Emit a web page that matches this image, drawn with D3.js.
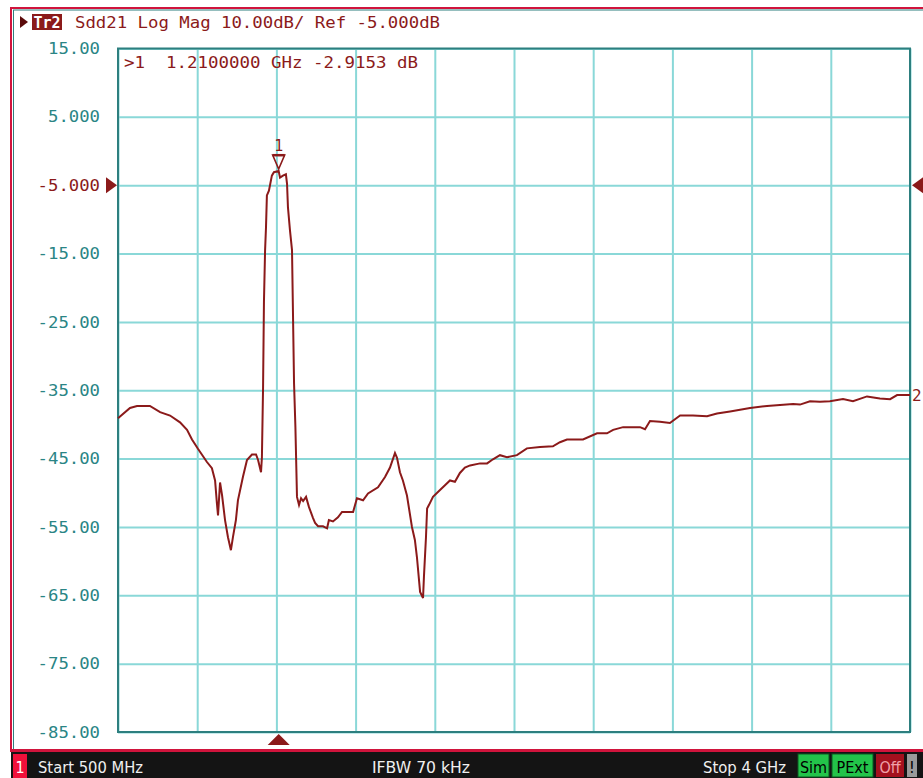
<!DOCTYPE html>
<html><head><meta charset="utf-8">
<script src="https://cdn.jsdelivr.net/npm/d3@7"></script>
<style>html,body{margin:0;padding:0;background:#fff;overflow:hidden}</style>
</head><body><svg id="c" width="923" height="778"></svg>
<script>
// ---- data ----
const freqGHz = [0.500,0.553,0.584,0.641,0.686,0.730,0.774,0.805,0.827,0.854,
  0.893,0.915,0.929,0.937,0.942,0.951,0.960,0.973,0.986,0.999,
  1.008,1.021,1.030,1.052,1.070,1.092,1.110,1.119,1.132,1.136,
  1.141,1.145,1.150,1.154,1.158,1.167,1.180,1.189,1.210,1.216,
  1.229,1.242,1.247,1.251,1.260,1.269,1.278,1.284,1.291,1.300,
  1.309,1.318,1.331,1.344,1.362,1.371,1.384,1.406,1.424,1.432,
  1.450,1.472,1.490,1.539,1.556,1.583,1.605,1.649,1.680,1.702,
  1.724,1.733,1.746,1.759,1.777,1.799,1.812,1.821,1.835,1.848,
  1.852,1.861,1.866,1.874,1.892,1.923,1.945,1.967,1.989,2.011,
  2.033,2.056,2.100,2.131,2.157,2.188,2.219,2.263,2.307,2.365,
  2.422,2.453,2.484,2.555,2.617,2.661,2.688,2.732,2.807,2.829,
  2.851,2.895,2.939,2.984,3.041,3.103,3.147,3.205,3.293,3.368,
  3.483,3.514,3.558,3.602,3.646,3.704,3.748,3.810,3.867,3.912,
  3.943,4.000];
const sdd21dB = [-39.1,-37.6,-37.3,-37.3,-38.2,-38.7,-39.7,-40.8,-42.2,-43.6,
  -45.5,-46.4,-48.2,-51.5,-53.3,-48.5,-50.4,-54.0,-56.5,-58.4,
  -56.5,-54.0,-51.1,-47.7,-45.2,-44.4,-44.4,-45.2,-47.0,-44.8,
  -34.7,-22.0,-14.5,-11.2,-6.5,-5.8,-3.6,-3.1,-2.92,-3.9,
  -3.6,-3.4,-4.8,-8.2,-11.6,-14.5,-34.0,-40.4,-50.6,-51.8,
  -50.8,-51.2,-50.6,-52.1,-53.7,-54.4,-54.9,-54.9,-55.2,-54.0,
  -54.2,-53.6,-52.8,-52.8,-50.8,-51.1,-50.1,-49.2,-47.7,-46.3,
  -44.2,-44.9,-47.0,-48.2,-50.4,-55.0,-56.9,-59.4,-64.5,-65.4,
  -62.3,-56.5,-52.3,-51.8,-50.6,-49.6,-48.9,-48.2,-48.4,-47.1,
  -46.3,-46.0,-45.7,-45.7,-45.1,-44.5,-44.8,-44.5,-43.5,-43.3,
  -43.2,-42.6,-42.2,-42.2,-41.3,-41.3,-40.8,-40.4,-40.4,-40.7,
  -39.5,-39.6,-39.8,-38.7,-38.7,-38.8,-38.4,-38.1,-37.6,-37.3,
  -37.0,-37.1,-36.6,-36.7,-36.6,-36.3,-36.6,-35.9,-36.2,-36.3,
  -35.7,-35.7];
const yTicks = [15,5,-5,-15,-25,-35,-45,-55,-65,-75,-85];
const yTickLabels = ["15.00","5.000","-5.000","-15.00","-25.00","-35.00","-45.00","-55.00","-65.00","-75.00","-85.00"];
const xTicks = [0.50,0.85,1.20,1.55,1.90,2.25,2.60,2.95,3.30,3.65,4.00];
const refLevel = -5;
const marker1 = {f:1.21, v:-2.9153};
const headerText = "Sdd21 Log Mag 10.00dB/ Ref -5.000dB";
const markerText = ">1  1.2100000 GHz -2.9153 dB";
const statusTexts = ["Start 500 MHz","IFBW 70 kHz","Stop 4 GHz"];

// ---- drawing ----
const svg = d3.select("#c");
const DR = "#8b1a1a", TEAL = "#2a8585", GRID = "#8ad8d8", BORDER = "#2d7f7f";
const MONO = "'DejaVu Sans Mono', monospace";
const NARROW = "'Liberation Sans Narrow','DejaVu Sans Condensed','Liberation Sans',sans-serif";
const P = {l:118, t:48.5, r:910, b:732};
const x = d3.scaleLinear().domain([0.5,4.0]).range([P.l,P.r]);
const y = d3.scaleLinear().domain([-85,15]).range([P.b,P.t]);

// window frame
svg.append("rect").attr("x",11).attr("y",7).attr("width",912).attr("height",745).attr("fill","#fff");
svg.append("line").attr("x1",11).attr("x2",923).attr("y1",8).attr("y2",8).attr("stroke","#d0143c").attr("stroke-width",2);
svg.append("line").attr("x1",13).attr("x2",923).attr("y1",10).attr("y2",10).attr("stroke",BORDER).attr("stroke-width",1);
svg.append("line").attr("x1",11).attr("x2",11).attr("y1",7).attr("y2",752).attr("stroke","#d0143c").attr("stroke-width",2);
svg.append("line").attr("x1",13.5).attr("x2",13.5).attr("y1",10).attr("y2",750).attr("stroke",BORDER).attr("stroke-width",1);

// grid (via axes)
const gx = svg.append("g").attr("transform",`translate(0,${P.b})`)
  .call(d3.axisBottom(x).tickValues(xTicks).tickSize(-(P.b-P.t)).tickFormat(""));
gx.select(".domain").remove();
gx.selectAll(".tick line").attr("stroke",GRID).attr("stroke-width",2);
const gy = svg.append("g").attr("transform",`translate(${P.l},0)`)
  .call(d3.axisLeft(y).tickValues(yTicks).tickSize(-(P.r-P.l)).tickPadding(18)
    .tickFormat((d,i)=>yTickLabels[i]));
gy.select(".domain").remove();
gy.selectAll(".tick line").attr("stroke",GRID).attr("stroke-width",2);
gy.selectAll(".tick text").attr("font-family",MONO).attr("font-size",16)
  .attr("fill",d=>d===refLevel?DR:TEAL).attr("x",-18)
  .each(function(){ const t=d3.select(this); t.attr("textLength", t.text().length*10.4).attr("lengthAdjust","spacingAndGlyphs"); });

// plot border
svg.append("rect").attr("x",P.l).attr("y",P.t).attr("width",P.r-P.l).attr("height",P.b-P.t)
  .attr("fill","none").attr("stroke",BORDER).attr("stroke-width",2);

// trace
const pts = freqGHz.map((f,i)=>[f,sdd21dB[i]]);
svg.append("path").datum(pts)
  .attr("d",d3.line().x(d=>x(d[0])).y(d=>y(d[1])))
  .attr("fill","none").attr("stroke",DR).attr("stroke-width",2).attr("stroke-linejoin","miter");

// marker 1
const mx = x(marker1.f), my = y(marker1.v);
svg.append("path").attr("d",`M${mx-6},${my-16}L${mx+6},${my-16}L${mx},${my-2}Z`)
  .attr("fill","none").attr("stroke",DR).attr("stroke-width",1.6);
svg.append("rect").attr("x",mx-6).attr("y",my-17).attr("width",12).attr("height",2.5).attr("fill",DR);
svg.append("text").attr("x",mx).attr("y",my-20).attr("text-anchor","middle")
  .attr("font-family",MONO).attr("font-size",15).attr("fill",DR).text("1");
// marker 2 label at trace end
svg.append("text").attr("x",P.r+2).attr("y",y(sdd21dB[sdd21dB.length-1])+6)
  .attr("font-family",MONO).attr("font-size",16).attr("fill",DR).text("2");

// reference-level arrows
const ry = y(refLevel);
svg.append("path").attr("d",`M106,${ry-8}L117,${ry}L106,${ry+8}Z`).attr("fill",DR);
svg.append("path").attr("d",`M923,${ry-8}L912,${ry}L923,${ry+8}Z`).attr("fill",DR);
// stimulus marker arrow at bottom
svg.append("path").attr("d",`M${mx-11},${P.b+13}L${mx+11},${P.b+13}L${mx},${P.b+2}Z`).attr("fill",DR);

// header
svg.append("path").attr("d","M20,16L28,22L20,28Z").attr("fill","#5a0a0a");
svg.append("rect").attr("x",32).attr("y",14).attr("width",30).attr("height",16).attr("fill",DR);
svg.append("text").attr("x",47).attr("y",27.5).attr("text-anchor","middle").attr("font-family",MONO)
  .attr("font-size",15).attr("font-weight","bold").attr("fill","#fff").text("Tr2");
svg.append("text").attr("x",75).attr("y",28).attr("font-family",MONO).attr("font-size",16)
  .attr("fill",DR).attr("textLength",365).attr("lengthAdjust","spacingAndGlyphs").text(headerText);
svg.append("text").attr("x",124).attr("y",68).attr("font-family",MONO).attr("font-size",16)
  .style("white-space","pre").attr("xml:space","preserve")
  .attr("fill",DR).attr("textLength",294).attr("lengthAdjust","spacingAndGlyphs").text(markerText);

// status bar
svg.append("rect").attr("x",11).attr("y",749).attr("width",912).attr("height",3).attr("fill","#d0143c");
svg.append("rect").attr("x",11).attr("y",752).attr("width",912).attr("height",26).attr("fill","#141414");
svg.append("rect").attr("x",13).attr("y",754).attr("width",14).attr("height",24).attr("fill","#f0103a");
svg.append("text").attr("x",20).attr("y",773).attr("text-anchor","middle").attr("font-family",NARROW)
  .attr("font-size",16).attr("fill","#fff").text("1");
const sx = [38,372,703], sw = [105,98,83];
statusTexts.forEach((t,i)=>svg.append("text").attr("x",sx[i]).attr("y",773).attr("font-family",NARROW)
  .attr("font-size",16).attr("fill","#f0f0f0").attr("textLength",sw[i]).attr("lengthAdjust","spacingAndGlyphs").text(t));
const boxes = [
  {t:"Sim", x:798, w:31, fill:"#23c44a", c:"#000"},
  {t:"PExt",x:832, w:41, fill:"#23c44a", c:"#000"},
  {t:"Off", x:876, w:28, fill:"#a4101e", c:"#f0a0a8"},
  {t:"!",   x:907, w:10, fill:"#9a9a9a", c:"#000"}];
boxes.forEach(b=>{
  svg.append("rect").attr("x",b.x).attr("y",754).attr("width",b.w).attr("height",23)
    .attr("fill",b.fill).attr("stroke","#0a5a20").attr("stroke-width",b.t==="Off"||b.t==="!"?0:1);
  svg.append("text").attr("x",b.x+b.w/2).attr("y",773).attr("text-anchor","middle").attr("font-family",NARROW)
    .attr("font-size",16).attr("fill",b.c).text(b.t);
});
</script></body></html>
